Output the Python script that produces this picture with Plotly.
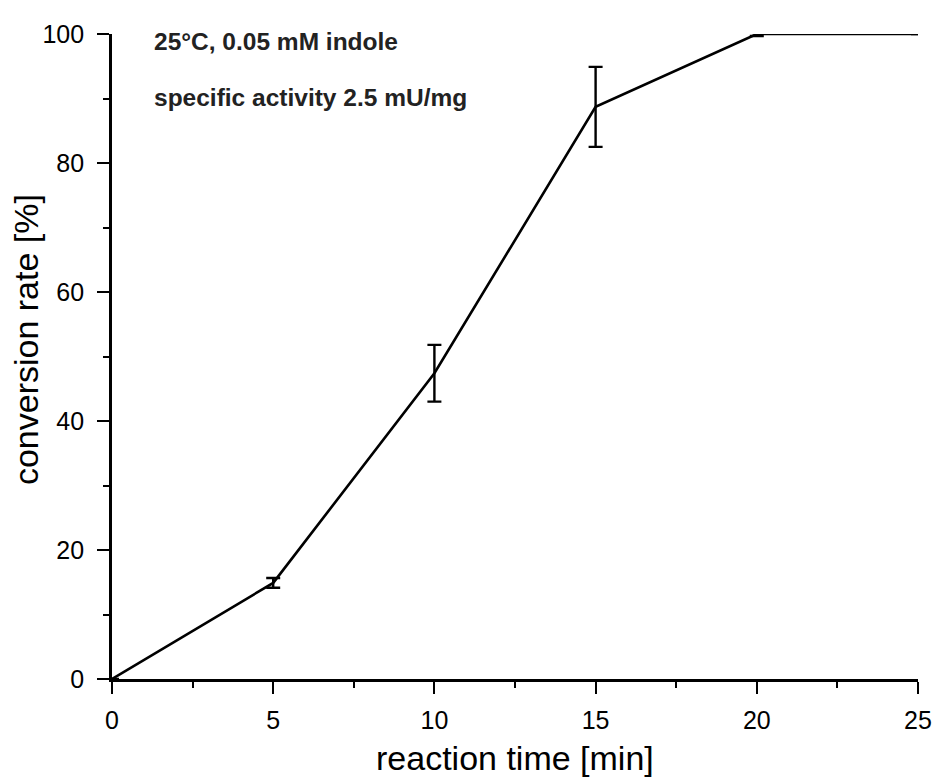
import plotly.graph_objects as go

time_min = [0, 5, 10, 15, 20, 25]
conversion = [0, 14.9, 47.4, 88.7, 100, 100]
error = [0, 0.75, 4.4, 6.2, 0.3, 0]

x_major = [0, 5, 10, 15, 20, 25]
x_minor = [2.5, 7.5, 12.5, 17.5, 22.5]
y_major = [0, 20, 40, 60, 80, 100]
y_minor = [10, 30, 50, 70, 90]

fig = go.Figure()
fig.add_trace(go.Scatter(
    x=time_min, y=conversion, mode="lines",
    line=dict(color="black", width=2.6),
    error_y=dict(type="data", array=error, visible=True, color="black",
                 thickness=2.4, width=7),
    showlegend=False, cliponaxis=False,
))

FAM = "Liberation Sans, Arial, sans-serif"
axis_font = dict(family=FAM, size=25, color="black")
title_font = dict(family=FAM, size=34, color="black")

common = dict(ticks="outside", ticklen=12, tickwidth=2.4, tickcolor="black",
              showline=True, linecolor="black", linewidth=2.8,
              showgrid=False, zeroline=False, tickfont=axis_font,
              ticklabeloverflow="allow")

fig.update_layout(
    width=936, height=772,
    margin=dict(l=104, r=17, t=15, b=101),
    plot_bgcolor="white", paper_bgcolor="white",
    xaxis=dict(range=[0, 25], tickvals=x_major, ticklabelstandoff=5,
               minor=dict(tickvals=x_minor, ticks="outside", ticklen=6,
                          tickwidth=2.4, tickcolor="black", showgrid=False),
               **common),
    yaxis=dict(range=[0, 100], tickvals=y_major, ticklabelstandoff=8,
               minor=dict(tickvals=y_minor, ticks="outside", ticklen=6,
                          tickwidth=2.4, tickcolor="black", showgrid=False),
               **common),
)

# axis titles
fig.add_annotation(x=0.5, y=-0.123, xref="paper", yref="paper",
                   text="reaction time [min]", showarrow=False,
                   xanchor="center", yanchor="middle", font=title_font)
fig.add_annotation(x=-0.1067, y=0.527, xref="paper", yref="paper",
                   text="conversion rate [%]", showarrow=False, textangle=-90,
                   xanchor="center", yanchor="middle", font=title_font)

ann_font = dict(family=FAM, size=24.5, color="#222222")
fig.add_annotation(x=1.25, y=98.9, xref="x", yref="y", text="<b>25°C, 0.05 mM indole</b>",
                   showarrow=False, xanchor="left", yanchor="middle", font=ann_font)
fig.add_annotation(x=1.25, y=90.1, xref="x", yref="y", text="<b>specific activity 2.5 mU/mg</b>",
                   showarrow=False, xanchor="left", yanchor="middle", font=ann_font)

fig.write_html("out.html")
